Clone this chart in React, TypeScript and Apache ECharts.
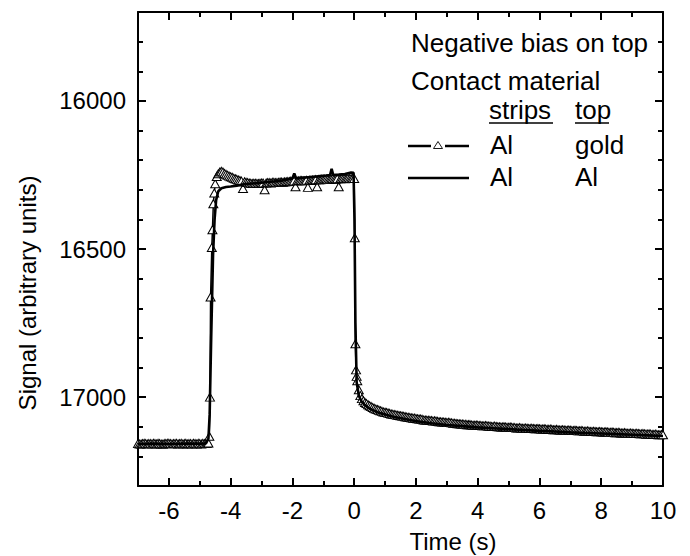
import React, { useEffect, useRef } from "react";
import * as echarts from "echarts";

const X_MIN = -7;
const X_MAX = 10;
const Y_MIN = 15700;
const Y_MAX = 17300;

const xMajorTicks = [-6, -4, -2, 0, 2, 4, 6, 8, 10];
const xMinorTicks = [-5, -3, -1, 1, 3, 5, 7, 9];
const yMajorTicks = [16000, 16500, 17000];
const yMinorTicks = [15800, 15900, 16100, 16200, 16300, 16400, 16600, 16700, 16800, 16900, 17100, 17200];

const xTitle = "Time (s)";
const yTitle = "Signal (arbitrary units)";
const noteLine1 = "Negative bias on top";
const noteLine2 = "Contact material";
const colStrips = "strips";
const colTop = "top";
const rowGold = ["Al", "gold"];
const rowAl = ["Al", "Al"];

// Al strips / Al top (solid line)
const alAlSignal: [number, number][] = [
  [-7.0, 17158], [-6.5, 17157], [-6.0, 17158], [-5.5, 17157], [-5.0, 17157], [-4.8, 17156],
  [-4.72, 17140], [-4.68, 17060], [-4.63, 16800], [-4.57, 16520], [-4.52, 16400], [-4.47, 16335],
  [-4.40, 16305], [-4.30, 16295], [-4.15, 16291], [-4.0, 16289], [-3.8, 16286], [-3.6, 16282],
  [-3.4, 16280], [-3.2, 16278], [-3.0, 16276], [-2.8, 16274], [-2.6, 16272], [-2.4, 16270],
  [-2.2, 16266], [-2.0, 16262], [-1.94, 16245], [-1.88, 16262], [-1.7, 16260], [-1.5, 16258],
  [-1.3, 16256], [-1.1, 16254], [-0.9, 16252], [-0.78, 16250], [-0.73, 16229], [-0.68, 16250],
  [-0.5, 16249], [-0.3, 16247], [-0.1, 16242], [-0.02, 16243], [0.01, 16400], [0.04, 16750],
  [0.08, 16950], [0.15, 16995], [0.24, 17015], [0.35, 17027], [0.46, 17036], [0.6, 17044],
  [0.78, 17052], [1.0, 17059], [1.3, 17067], [1.6, 17073], [1.9, 17079], [2.2, 17084],
  [2.5, 17088], [3.0, 17094], [3.5, 17098], [4.0, 17102], [4.5, 17105], [5.0, 17108],
  [5.5, 17111], [6.0, 17114], [6.5, 17116], [7.0, 17119], [7.5, 17121], [8.0, 17123],
  [8.5, 17125], [9.0, 17127], [9.5, 17129], [10.0, 17131],
];

// Al strips / gold top (triangles)
const alGoldSignal: [number, number][] = [
  [-7.0, 17157], [-6.95, 17158], [-6.9, 17158], [-6.85, 17157], [-6.8, 17156], [-6.75, 17157],
  [-6.7, 17158], [-6.65, 17157], [-6.6, 17157], [-6.55, 17158], [-6.5, 17156], [-6.45, 17157],
  [-6.4, 17158], [-6.35, 17156], [-6.3, 17157], [-6.25, 17158], [-6.2, 17159], [-6.15, 17157],
  [-6.1, 17157], [-6.05, 17156], [-6.0, 17156], [-5.95, 17157], [-5.9, 17158], [-5.85, 17157],
  [-5.8, 17157], [-5.75, 17156], [-5.7, 17158], [-5.65, 17157], [-5.6, 17156], [-5.55, 17158],
  [-5.5, 17157], [-5.45, 17156], [-5.4, 17158], [-5.35, 17157], [-5.3, 17157], [-5.25, 17158],
  [-5.2, 17156], [-5.15, 17157], [-5.1, 17158], [-5.05, 17156], [-5.0, 17157], [-4.95, 17158],
  [-4.9, 17156], [-4.85, 17157], [-4.8, 17157], [-4.76, 17156], [-4.72, 17155],
  [-4.69, 17132], [-4.67, 17000], [-4.65, 16662], [-4.61, 16495], [-4.59, 16435], [-4.56, 16347],
  [-4.53, 16311], [-4.50, 16280], [-4.45, 16255], [-4.4, 16246], [-4.35, 16240], [-4.3, 16238],
  [-4.25, 16240], [-4.2, 16245], [-4.15, 16248], [-4.1, 16251], [-4.05, 16254], [-4.0, 16256],
  [-3.95, 16258], [-3.9, 16261], [-3.85, 16263], [-3.8, 16265], [-3.75, 16267], [-3.7, 16269],
  [-3.65, 16271], [-3.6, 16296], [-3.55, 16273], [-3.5, 16275], [-3.45, 16276], [-3.4, 16277],
  [-3.35, 16278], [-3.3, 16279], [-3.25, 16278], [-3.2, 16278], [-3.15, 16279], [-3.1, 16279],
  [-3.05, 16278], [-3.0, 16277], [-2.95, 16277], [-2.9, 16300], [-2.85, 16277], [-2.8, 16276],
  [-2.75, 16276], [-2.7, 16277], [-2.65, 16275], [-2.6, 16275], [-2.55, 16276], [-2.5, 16276],
  [-2.45, 16275], [-2.4, 16274], [-2.35, 16274], [-2.3, 16275], [-2.25, 16273], [-2.2, 16273],
  [-2.15, 16272], [-2.1, 16272], [-2.05, 16271], [-2.0, 16271], [-1.95, 16270], [-1.9, 16290],
  [-1.85, 16270], [-1.8, 16270], [-1.75, 16269], [-1.7, 16269], [-1.65, 16270], [-1.6, 16270],
  [-1.55, 16268], [-1.5, 16292], [-1.45, 16268], [-1.4, 16268], [-1.35, 16267], [-1.3, 16267],
  [-1.25, 16266], [-1.2, 16290], [-1.15, 16266], [-1.1, 16266], [-1.05, 16265], [-1.0, 16265],
  [-0.95, 16264], [-0.9, 16264], [-0.85, 16265], [-0.8, 16265], [-0.75, 16264], [-0.7, 16263],
  [-0.65, 16264], [-0.6, 16264], [-0.55, 16263], [-0.5, 16290], [-0.45, 16263], [-0.4, 16262],
  [-0.35, 16262], [-0.3, 16263], [-0.25, 16262], [-0.2, 16261], [-0.15, 16262], [-0.1, 16262],
  [-0.05, 16261], [0.0, 16262],
  [0.02, 16462], [0.04, 16820], [0.06, 16908], [0.08, 16930], [0.1, 16945], [0.15, 16975],
  [0.2, 16995], [0.25, 17005], [0.3, 17012], [0.35, 17018], [0.4, 17022], [0.45, 17026],
  [0.5, 17029], [0.55, 17032], [0.6, 17035], [0.65, 17038], [0.7, 17040], [0.75, 17042],
  [0.8, 17044], [0.85, 17046], [0.9, 17048], [0.95, 17050], [1.0, 17051], [1.05, 17052],
  [1.1, 17054], [1.15, 17055], [1.2, 17057], [1.25, 17058], [1.3, 17059], [1.35, 17060],
  [1.4, 17061], [1.45, 17062], [1.5, 17063], [1.55, 17064], [1.6, 17065], [1.65, 17066],
  [1.7, 17067], [1.75, 17068], [1.8, 17069], [1.85, 17070], [1.9, 17071], [1.95, 17071],
  [2.0, 17072], [2.05, 17073], [2.1, 17074], [2.15, 17074], [2.2, 17075], [2.25, 17077],
  [2.3, 17077], [2.35, 17078], [2.4, 17078], [2.45, 17079], [2.5, 17079], [2.55, 17081],
  [2.6, 17080], [2.65, 17081], [2.7, 17082], [2.75, 17083], [2.8, 17083], [2.85, 17084],
  [2.9, 17084], [2.95, 17085], [3.0, 17086], [3.05, 17085], [3.1, 17086], [3.15, 17087],
  [3.2, 17088], [3.25, 17088], [3.3, 17089], [3.35, 17090], [3.4, 17090], [3.45, 17091],
  [3.5, 17091], [3.55, 17092], [3.6, 17092], [3.65, 17093], [3.7, 17093], [3.75, 17093],
  [3.8, 17094], [3.85, 17095], [3.9, 17095], [3.95, 17094], [4.0, 17095], [4.05, 17096],
  [4.1, 17096], [4.15, 17097], [4.2, 17097], [4.25, 17096], [4.3, 17097], [4.35, 17098],
  [4.4, 17098], [4.45, 17099], [4.5, 17099], [4.55, 17098], [4.6, 17099], [4.65, 17100],
  [4.7, 17100], [4.75, 17101], [4.8, 17101], [4.85, 17100], [4.9, 17101], [4.95, 17102],
  [5.0, 17102], [5.05, 17101], [5.1, 17102], [5.15, 17103], [5.2, 17103], [5.25, 17104],
  [5.3, 17104], [5.35, 17103], [5.4, 17104], [5.45, 17105], [5.5, 17105], [5.55, 17104],
  [5.6, 17105], [5.65, 17106], [5.7, 17106], [5.75, 17105], [5.8, 17106], [5.85, 17107],
  [5.9, 17107], [5.95, 17106], [6.0, 17107], [6.05, 17108], [6.1, 17108], [6.15, 17107],
  [6.2, 17108], [6.25, 17109], [6.3, 17109], [6.35, 17108], [6.4, 17109], [6.45, 17110],
  [6.5, 17110], [6.55, 17109], [6.6, 17110], [6.65, 17111], [6.7, 17111], [6.75, 17110],
  [6.8, 17111], [6.85, 17112], [6.9, 17112], [6.95, 17111], [7.0, 17112], [7.05, 17113],
  [7.1, 17113], [7.15, 17112], [7.2, 17113], [7.25, 17114], [7.3, 17114], [7.35, 17113],
  [7.4, 17114], [7.45, 17115], [7.5, 17115], [7.55, 17114], [7.6, 17115], [7.65, 17116],
  [7.7, 17116], [7.75, 17115], [7.8, 17116], [7.85, 17117], [7.9, 17117], [7.95, 17116],
  [8.0, 17117], [8.05, 17118], [8.1, 17118], [8.15, 17117], [8.2, 17118], [8.25, 17119],
  [8.3, 17119], [8.35, 17118], [8.4, 17119], [8.45, 17120], [8.5, 17120], [8.55, 17119],
  [8.6, 17120], [8.65, 17121], [8.7, 17121], [8.75, 17120], [8.8, 17121], [8.85, 17122],
  [8.9, 17122], [8.95, 17121], [9.0, 17122], [9.05, 17123], [9.1, 17123], [9.15, 17122],
  [9.2, 17123], [9.25, 17124], [9.3, 17124], [9.35, 17123], [9.4, 17124], [9.45, 17125],
  [9.5, 17125], [9.55, 17124], [9.6, 17125], [9.65, 17126], [9.7, 17126], [9.75, 17125],
  [9.8, 17126], [9.85, 17127], [9.9, 17127], [9.95, 17126], [10.0, 17127],
];

const FONT = "'Liberation Sans', Arial, sans-serif";

function xAxisDef(position: string, ticks: number[], len: number, showLabel: boolean, showLine: boolean) {
  return {
    type: "value",
    position,
    min: X_MIN,
    max: X_MAX,
    axisLine: { show: showLine, onZero: false, lineStyle: { color: "#000", width: 2 } },
    axisTick: { show: true, inside: true, length: len, customValues: ticks, lineStyle: { color: "#000", width: 2 } },
    axisLabel: showLabel
      ? {
          show: true,
          customValues: ticks,
          fontSize: 24,
          fontFamily: FONT,
          color: "#000",
          margin: 12,
          formatter: (v: number) => String(v),
        }
      : { show: false },
    splitLine: { show: false },
  };
}

function yAxisDef(position: string, ticks: number[], len: number, showLabel: boolean, showLine: boolean) {
  return {
    type: "value",
    position,
    inverse: true,
    min: Y_MIN,
    max: Y_MAX,
    axisLine: { show: showLine, onZero: false, lineStyle: { color: "#000", width: 2 } },
    axisTick: { show: true, inside: true, length: len, customValues: ticks, lineStyle: { color: "#000", width: 2 } },
    axisLabel: showLabel
      ? {
          show: true,
          customValues: ticks,
          fontSize: 24,
          fontFamily: FONT,
          color: "#000",
          margin: 12,
          formatter: (v: number) => String(v),
        }
      : { show: false },
    splitLine: { show: false },
  };
}

export default function App() {
  const ref = useRef<HTMLDivElement>(null);

  useEffect(() => {
    if (!ref.current) return;
    const chart = echarts.init(ref.current, undefined, { renderer: "svg" });
    const txt = (text: string, x: number, y: number, size = 26, align = "left") => ({
      type: "text",
      x,
      y,
      style: { text, fontSize: size, fontFamily: FONT, fill: "#000", textAlign: align, textVerticalAlign: "middle" },
    });
    const ln = (x1: number, y1: number, x2: number, y2: number, w = 2.5) => ({
      type: "line",
      shape: { x1, y1, x2, y2 },
      style: { stroke: "#000", lineWidth: w },
    });

    chart.setOption({
      animation: false,
      backgroundColor: "#fff",
      grid: { left: 138, right: 27, top: 12, bottom: 70, containLabel: false },
      xAxis: [
        xAxisDef("bottom", xMajorTicks, 8, true, true),
        xAxisDef("bottom", xMinorTicks, 5, false, false),
        xAxisDef("top", xMajorTicks, 8, false, true),
        xAxisDef("top", xMinorTicks, 5, false, false),
      ],
      yAxis: [
        yAxisDef("left", yMajorTicks, 8, true, true),
        yAxisDef("left", yMinorTicks, 5, false, false),
        yAxisDef("right", yMajorTicks, 8, false, true),
        yAxisDef("right", yMinorTicks, 5, false, false),
      ],
      series: [
        {
          name: "Al / gold",
          type: "line",
          xAxisIndex: 0,
          yAxisIndex: 0,
          data: alGoldSignal,
          symbol: "triangle",
          symbolSize: [9, 8],
          showSymbol: true,
          showAllSymbol: true,
          lineStyle: { color: "#000", width: 1.5 },
          itemStyle: { color: "#fff", borderColor: "#000", borderWidth: 1 },
          z: 2,
        },
        {
          name: "Al / Al",
          type: "line",
          xAxisIndex: 0,
          yAxisIndex: 0,
          data: alAlSignal,
          showSymbol: false,
          symbol: "none",
          lineStyle: { color: "#000", width: 2.6 },
          z: 3,
        },
      ],
      graphic: [
        txt(xTitle, 453, 541, 24, "center"),
        {
          type: "text",
          x: 27,
          y: 293,
          rotation: Math.PI / 2,
          style: { text: yTitle, fontSize: 24, fontFamily: FONT, fill: "#000", textAlign: "center", textVerticalAlign: "middle" },
        },
        txt(noteLine1, 411, 43),
        txt(noteLine2, 411, 81),
        txt(colStrips, 489, 110),
        ln(489, 123, 553, 123, 1.5),
        txt(colTop, 575, 110),
        ln(575, 123, 609, 123, 1.5),
        ln(408, 146, 431, 146),
        ln(445, 146, 469, 146),
        {
          type: "polygon",
          shape: { points: [[438, 141.5], [433.5, 148.5], [442.5, 148.5]] },
          style: { fill: "#fff", stroke: "#000", lineWidth: 0.9 },
        },
        txt(rowGold[0], 490, 145),
        txt(rowGold[1], 575, 145),
        ln(408, 178, 469, 178),
        txt(rowAl[0], 490, 177),
        txt(rowAl[1], 575, 177),
      ],
    });
    return () => chart.dispose();
  }, []);

  return (
    <div
      ref={ref}
      style={{ position: "fixed", left: 0, top: 0, width: 690, height: 556, background: "#fff" }}
    />
  );
}
